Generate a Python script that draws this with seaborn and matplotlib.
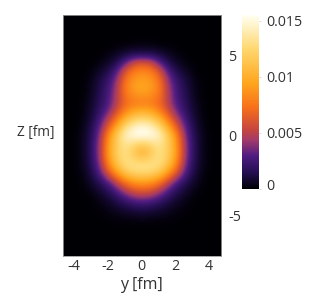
import numpy as np
import matplotlib
matplotlib.use("Agg")
import matplotlib.pyplot as plt
from matplotlib.colors import LinearSegmentedColormap
from matplotlib.transforms import ScaledTranslation
import seaborn as sns

# transverse coordinate y >= 0 (fm); picture is symmetric about y = 0
y_half = [0, 0.5, 1, 1.5, 2, 2.5, 3, 3.5, 4, 4.5, 5]
# longitudinal coordinate Z (fm), top to bottom
z_rows = [7.5, 7, 6.5, 6, 5.5, 5, 4.5, 4, 3.5, 3, 2.5, 2, 1.5, 1, 0.5, 0, -0.5, -1,
          -1.5, -2, -2.5, -3, -3.5, -4, -4.5, -5, -5.5, -6, -6.5, -7, -7.5]
# density, in units of 1e-4
density_half = [
    [0, 0, 0, 0, 0, 0, 0, 0, 0, 0, 0],
    [0, 0, 0, 0, 0, 0, 0, 0, 0, 0, 0],
    [0, 0, 0, 0, 0, 0, 0, 0, 0, 0, 0],
    [1, 1, 0, 0, 0, 0, 0, 0, 0, 0, 0],
    [4, 4, 3, 2, 1, 0, 0, 0, 0, 0, 0],
    [18, 17, 12, 7, 3, 1, 0, 0, 0, 0, 0],
    [62, 56, 34, 15, 7, 3, 1, 0, 0, 0, 0],
    [82, 78, 60, 30, 14, 7, 2, 0, 0, 0, 0],
    [92, 88, 73, 40, 21, 12, 4, 1, 0, 0, 0],
    [96, 92, 78, 46, 25, 14, 5, 1, 0, 0, 0],
    [88, 85, 75, 48, 27, 16, 6, 1, 0, 0, 0],
    [79, 78, 70, 50, 29, 18, 7, 2, 0, 0, 0],
    [100, 96, 82, 60, 36, 21, 9, 2, 0, 0, 0],
    [128, 122, 106, 78, 50, 27, 11, 3, 0, 0, 0],
    [152, 146, 130, 100, 66, 34, 14, 4, 0, 0, 0],
    [155, 153, 145, 118, 84, 40, 16, 5, 1, 0, 0],
    [122, 128, 136, 120, 90, 44, 18, 5, 1, 0, 0],
    [100, 115, 132, 120, 92, 45, 18, 5, 1, 0, 0],
    [118, 124, 132, 118, 88, 43, 17, 5, 1, 0, 0],
    [135, 133, 126, 105, 76, 36, 15, 4, 1, 0, 0],
    [116, 113, 103, 80, 52, 27, 11, 3, 0, 0, 0],
    [86, 82, 70, 48, 27, 15, 7, 2, 0, 0, 0],
    [60, 56, 44, 28, 16, 9, 3, 1, 0, 0, 0],
    [34, 31, 24, 15, 8, 4, 1, 0, 0, 0, 0],
    [16, 14, 11, 7, 4, 2, 1, 0, 0, 0, 0],
    [6, 5, 4, 3, 2, 1, 0, 0, 0, 0, 0],
    [1, 1, 1, 1, 0, 0, 0, 0, 0, 0, 0],
    [0, 0, 0, 0, 0, 0, 0, 0, 0, 0, 0],
    [0, 0, 0, 0, 0, 0, 0, 0, 0, 0, 0],
    [0, 0, 0, 0, 0, 0, 0, 0, 0, 0, 0],
    [0, 0, 0, 0, 0, 0, 0, 0, 0, 0, 0],
]
y_ticks = [-4, -2, 0, 2, 4]
y_ticklabels = ["-4", "-2", "0", "2", "4"]
z_ticks = [5, 0, -5]
z_ticklabels = ["5", "0", "-5"]
cbar_ticks = [0, 0.005, 0.01, 0.015]
cbar_ticklabels = ["0", "0.005", "0.01", "0.015"]

palette_stops = [(0.0, "#000004"), (0.09, "#220e4e"), (0.19, "#4f1c82"), (0.28, "#a23a6a"),
                 (0.34, "#c5463f"), (0.47, "#f8701a"), (0.61, "#ffa61e"), (0.81, "#ffd870"),
                 (1.0, "#fffff2")]
cmap = LinearSegmentedColormap.from_list("dens", palette_stops)

W, H = 321, 299
sns.set_theme(style="white")
plt.rcParams["font.family"] = ["Open Sans", "DejaVu Sans"]
TXT = "#333333"

half = np.array(density_half, dtype=float) * 1e-4
grid = np.hstack([half[:, :0:-1], half])
y_full = np.array([-v for v in y_half[:0:-1]] + y_half)
z_full = np.array(z_rows)
n_rows, n_cols = grid.shape

fig = plt.figure(figsize=(W / 100, H / 100), dpi=100, facecolor="white")
ax = fig.add_axes([62.5 / W, 1 - 256 / H, 158.5 / W, 241 / H])
cax = fig.add_axes([242 / W, 1 - 189 / H, 17 / W, 174 / H])

sns.heatmap(grid, ax=ax, cbar_ax=cax, cmap=cmap, vmin=0, vmax=0.0155,
            xticklabels=False, yticklabels=False)
# same matrix, shown with smooth resampling in place of the blocky cells
ax.collections[0].set_visible(False)
ax.imshow(grid, cmap=cmap, vmin=0, vmax=0.0155, interpolation="bicubic", aspect="auto",
          extent=(0, n_cols, n_rows, 0))

# heatmap cell centres sit at index + 0.5: map physical coordinates onto them
idx_x = np.arange(n_cols) + 0.5
idx_z = np.arange(n_rows) + 0.5
to_x = lambda v: np.interp(v, y_full, idx_x)
to_z = lambda v: np.interp(-np.asarray(v, float), -z_full, idx_z)

ax.set_xlim(to_x(-4.7), to_x(4.7))
ax.set_ylim(to_z(-7.5), to_z(7.5))
ax.set_xticks(to_x(y_ticks))
ax.set_xticklabels(y_ticklabels, color=TXT, fontsize=10.3)
ax.yaxis.tick_right()
ax.set_yticks(to_z(z_ticks))
ax.set_yticklabels(z_ticklabels, color=TXT, fontsize=10.3)
ax.tick_params(axis="y", length=0, pad=5, labelrotation=0)
ax.tick_params(axis="x", length=0, pad=2, labelrotation=0)
for s in ax.spines.values():
    s.set_visible(True)
    s.set_color("#999999")
    s.set_linewidth(0.6)

ax.set_xlabel("y [fm]", color=TXT, fontsize=11.5, labelpad=2)
fig.text(36 / W, 1 - 133 / H, "Z [fm]", color=TXT, fontsize=9.8, ha="center", va="center")

cax.set_yticks(cbar_ticks)
cax.set_yticklabels(cbar_ticklabels, color=TXT, fontsize=10.3)
cax.tick_params(axis="y", length=1.5, color="#cccccc", pad=3.5, width=0.5)
lab0 = cax.get_yticklabels()[0]
lab0.set_transform(lab0.get_transform() + ScaledTranslation(0, 4 / 100, fig.dpi_scale_trans))
for s in cax.spines.values():
    s.set_visible(False)

fig.savefig("out.png", dpi=100, facecolor="white")
